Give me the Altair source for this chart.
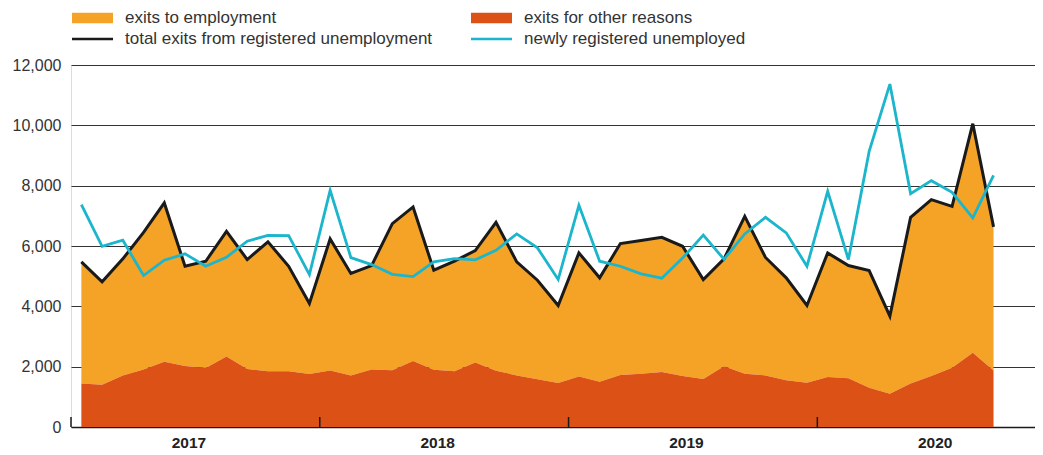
import json
import altair as alt
import pandas as pd

# Monthly data, Jan 2017 .. Sep 2020 (index 0..44)
months = list(range(45))

exits_employment = [4029, 3410, 3863, 4540, 5264, 3311, 3542, 4148, 3631, 4293, 3485, 2340,
                    4359, 3377, 3442, 4860, 5109, 3298, 3656, 3707, 4920, 3763, 3288, 2572,
                    4094, 3444, 4360, 4412, 4468, 4302, 3299, 3564, 5216, 3909, 3399, 2559,
                    4117, 3740, 3884, 2570, 5505, 5849, 5349, 7590, 4756]

exits_other = [1446, 1403, 1711, 1910, 2164, 2019, 1953, 2340, 1920, 1844, 1844, 1754,
               1877, 1711, 1910, 1880, 2186, 1899, 1844, 2142, 1867, 1711, 1579, 1456,
               1678, 1501, 1721, 1768, 1821, 1688, 1590, 2010, 1768, 1711, 1546, 1469,
               1655, 1612, 1303, 1104, 1446, 1688, 1966, 2463, 1877]

total_exits = [5475, 4813, 5574, 6450, 7428, 5330, 5495, 6488, 5551, 6137, 5329, 4094,
               6236, 5088, 5352, 6740, 7295, 5197, 5500, 5849, 6787, 5474, 4867, 4028,
               5772, 4945, 6081, 6180, 6289, 5990, 4889, 5574, 6984, 5620, 4945, 4028,
               5772, 5352, 5187, 3674, 6951, 7537, 7315, 10053, 6633]

new_registered = [7371, 5991, 6190, 5021, 5528, 5739, 5329, 5627, 6157, 6355, 6345, 5054,
                  7845, 5617, 5385, 5060, 4988, 5474, 5584, 5540, 5859, 6401, 5938, 4889,
                  7349, 5495, 5329, 5077, 4932, 5600, 6360, 5560, 6400, 6950, 6435, 5329,
                  7812, 5551, 9136, 11367, 7736, 8166, 7779, 6931, 8341]

years = ["2017", "2018", "2019", "2020"]
year_start = [-0.5, 11.5, 23.5, 35.5]
year_center = [5.5, 17.5, 29.5, 41.5]
y_ticks = [0, 2000, 4000, 6000, 8000, 10000, 12000]

series_names = ["exits to employment", "exits for other reasons",
                "total exits from registered unemployment", "newly registered unemployed"]
series_colors = ["#F5A327", "#DC5116", "#1A1A1A", "#1BB5CC"]
area_path = "M-2.05,-0.53H2.05V0.53H-2.05Z"
line_path = "M-2.05,-0.135H2.05V0.135H-2.05Z"
series_shapes = [area_path, area_path, line_path, line_path]

W, H = 964, 362

area_df = pd.DataFrame({
    "i": months + months,
    "value": exits_employment + exits_other,
    "series": [series_names[0]] * 45 + [series_names[1]] * 45,
    "ord": [1] * 45 + [0] * 45,
})
total_df = pd.DataFrame({"i": months, "value": total_exits, "series": series_names[2]})
new_df = pd.DataFrame({"i": months, "value": new_registered, "series": series_names[3]})
legend_df = pd.DataFrame({"i": [0] * 4, "value": [0] * 4, "series": series_names})
ticks_df = pd.DataFrame({"i": year_start})

xscale = alt.Scale(domain=[-0.5, 46.0], nice=False, zero=False)
yscale = alt.Scale(domain=[0, 12000], nice=False)
cscale = alt.Scale(domain=series_names, range=series_colors)

label_expr = "%s[floor(datum.value / 12)]" % json.dumps(years)

xaxis = alt.Axis(values=year_center, labelExpr=label_expr, ticks=False, grid=False,
                 domain=True, domainColor="#1A1A1A", domainWidth=1.5,
                 labelFontSize=15.5, labelFontWeight="bold", labelColor="#222222",
                 labelPadding=8, labelOffset=-7, title=None)
yaxis = alt.Axis(values=y_ticks, format=",.0f", grid=True, gridColor="#333333", gridWidth=1,
                 domain=False, ticks=False, labelFontSize=16, labelColor="#333333",
                 labelPadding=10, title=None)

areas = alt.Chart(area_df).mark_area(interpolate="linear", opacity=1).encode(
    x=alt.X("i:Q", scale=xscale, axis=xaxis),
    y=alt.Y("value:Q", stack="zero", scale=yscale, axis=yaxis),
    color=alt.Color("series:N", scale=cscale, legend=None),
    order=alt.Order("ord:Q"),
)

line_total = alt.Chart(total_df).mark_line(strokeWidth=3, interpolate="linear").encode(
    x=alt.X("i:Q", scale=xscale),
    y=alt.Y("value:Q", scale=yscale),
    color=alt.Color("series:N", scale=cscale, legend=None),
)

line_new = alt.Chart(new_df).mark_line(strokeWidth=2.8, interpolate="linear").encode(
    x=alt.X("i:Q", scale=xscale),
    y=alt.Y("value:Q", scale=yscale),
    color=alt.Color("series:N", scale=cscale, legend=None),
)

year_ticks = alt.Chart(ticks_df).mark_rule(color="#1A1A1A", strokeWidth=1.5).encode(
    x=alt.X("i:Q", scale=xscale),
    y=alt.value(H),
    y2=alt.value(H - 10),
)

leg = alt.Legend(title=None, orient="none", legendX=11.5, legendY=-57, direction="horizontal",
                 columns=2, symbolSize=400, symbolStrokeWidth=0, labelFontSize=17,
                 labelFont="Liberation Sans", labelColor="#333333", labelLimit=500,
                 labelOffset=22.5, columnPadding=38, rowPadding=3, padding=0)

legend_layer = alt.Chart(legend_df).transform_filter("datum.i < 0").mark_point(
    filled=True, opacity=1).encode(
    x=alt.X("i:Q", scale=xscale),
    y=alt.Y("value:Q", scale=yscale),
    color=alt.Color("series:N", scale=cscale, legend=leg),
    shape=alt.Shape("series:N", scale=alt.Scale(domain=series_names, range=series_shapes), legend=leg),
)

chart = alt.layer(areas, line_total, line_new, year_ticks, legend_layer).resolve_legend(
    color="independent", shape="independent"
).properties(
    width=W, height=H,
    autosize=alt.AutoSizeParams(type="none"),
    padding={"left": 63, "top": 57, "right": 0, "bottom": 24},
).configure_view(stroke=None).configure(
    font="Liberation Sans"
).configure_axis(labelFont="Liberation Sans")

chart.save("out.html", embed_options={"renderer": "svg", "actions": False})
